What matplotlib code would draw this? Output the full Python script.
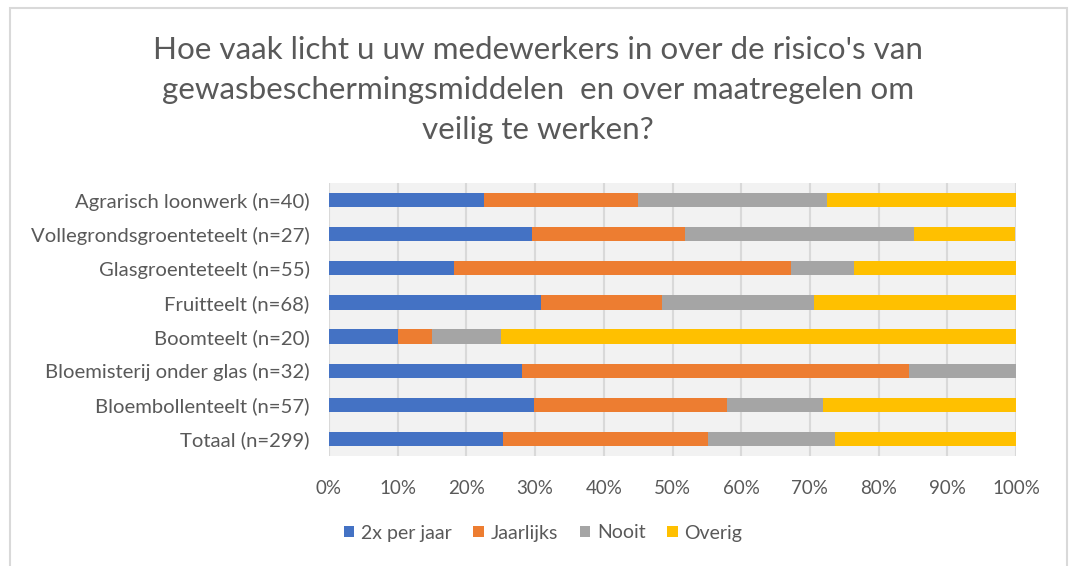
import matplotlib
matplotlib.use("Agg")
import matplotlib.pyplot as plt
from matplotlib.patches import Rectangle
import numpy as np

plt.rcParams['font.family'] = ['Lato', 'DejaVu Sans']

categories = [
    "Agrarisch loonwerk (n=40)",
    "Vollegrondsgroenteteelt (n=27)",
    "Glasgroenteteelt (n=55)",
    "Fruitteelt (n=68)",
    "Boomteelt (n=20)",
    "Bloemisterij onder glas (n=32)",
    "Bloembollenteelt (n=57)",
    "Totaal (n=299)",
]
series_names = ["2x per jaar", "Jaarlijks", "Nooit", "Overig"]
twice_per_year = [22.5, 29.6, 18.2, 30.9, 10.0, 28.1, 29.8, 25.4]
yearly = [22.5, 22.2, 49.1, 17.6, 5.0, 56.3, 28.1, 29.8]
never = [27.5, 33.3, 9.1, 22.1, 10.0, 15.6, 14.0, 18.4]
other = [27.5, 14.8, 23.6, 29.4, 75.0, 0.0, 28.1, 26.4]
x_ticks = [0, 10, 20, 30, 40, 50, 60, 70, 80, 90, 100]
x_tick_labels = [f"{t}%" for t in x_ticks]

colors = ["#4472C4", "#ED7D31", "#A5A5A5", "#FFC000"]
text_color = "#595959"

fig = plt.figure(figsize=(10.72, 5.66), dpi=100)
fig.patch.set_facecolor("white")
fig.add_artist(Rectangle((10/1072, -0.01), (1067-10)/1072, 1 - 8/566 + 0.01,
                         transform=fig.transFigure, fill=False,
                         edgecolor="#D9D9D9", linewidth=1.5))

ax = fig.add_axes([329/1072, 1 - 456/566, 687/1072, 273/566])
ax.set_facecolor("#F2F2F2")

y = np.arange(len(categories))
left = np.zeros(len(categories))
for name, vals, c in zip(series_names, [twice_per_year, yearly, never, other], colors):
    vals = np.array(vals)
    ax.barh(y, vals, left=left, height=0.42, color=c, label=name, zorder=3)
    left = left + vals

ax.set_ylim(len(categories) - 0.5, -0.5)
ax.set_xlim(0, 100)
ax.set_xticks(x_ticks)
ax.set_xticklabels(x_tick_labels)
ax.set_yticks(y)
ax.set_yticklabels(categories)
ax.tick_params(axis='x', length=0, colors=text_color, labelsize=13.5, pad=17)
ax.tick_params(axis='y', length=0, colors=text_color, labelsize=14.6, pad=14)
ax.grid(axis='x', color="#D9D9D9", linewidth=1.5, zorder=0)
for s in ax.spines.values():
    s.set_visible(False)

title_lines = [
    "Hoe vaak licht u uw medewerkers in over de risico's van",
    "gewasbeschermingsmiddelen  en over maatregelen om",
    "veilig te werken?",
]
for i, line in enumerate(title_lines):
    fig.text(538/1072, 1 - (50 + 40 * i)/566, line,
             ha='center', va='center', fontsize=22.6, color=text_color)

leg = fig.legend(loc='center', bbox_to_anchor=(543/1072, 1 - 533/566), ncol=4,
                 frameon=False, fontsize=14, handlelength=0.55, handleheight=0.55,
                 handletextpad=0.35, columnspacing=1.1)
for t in leg.get_texts():
    t.set_color(text_color)

fig.savefig("out.png", dpi=100)
